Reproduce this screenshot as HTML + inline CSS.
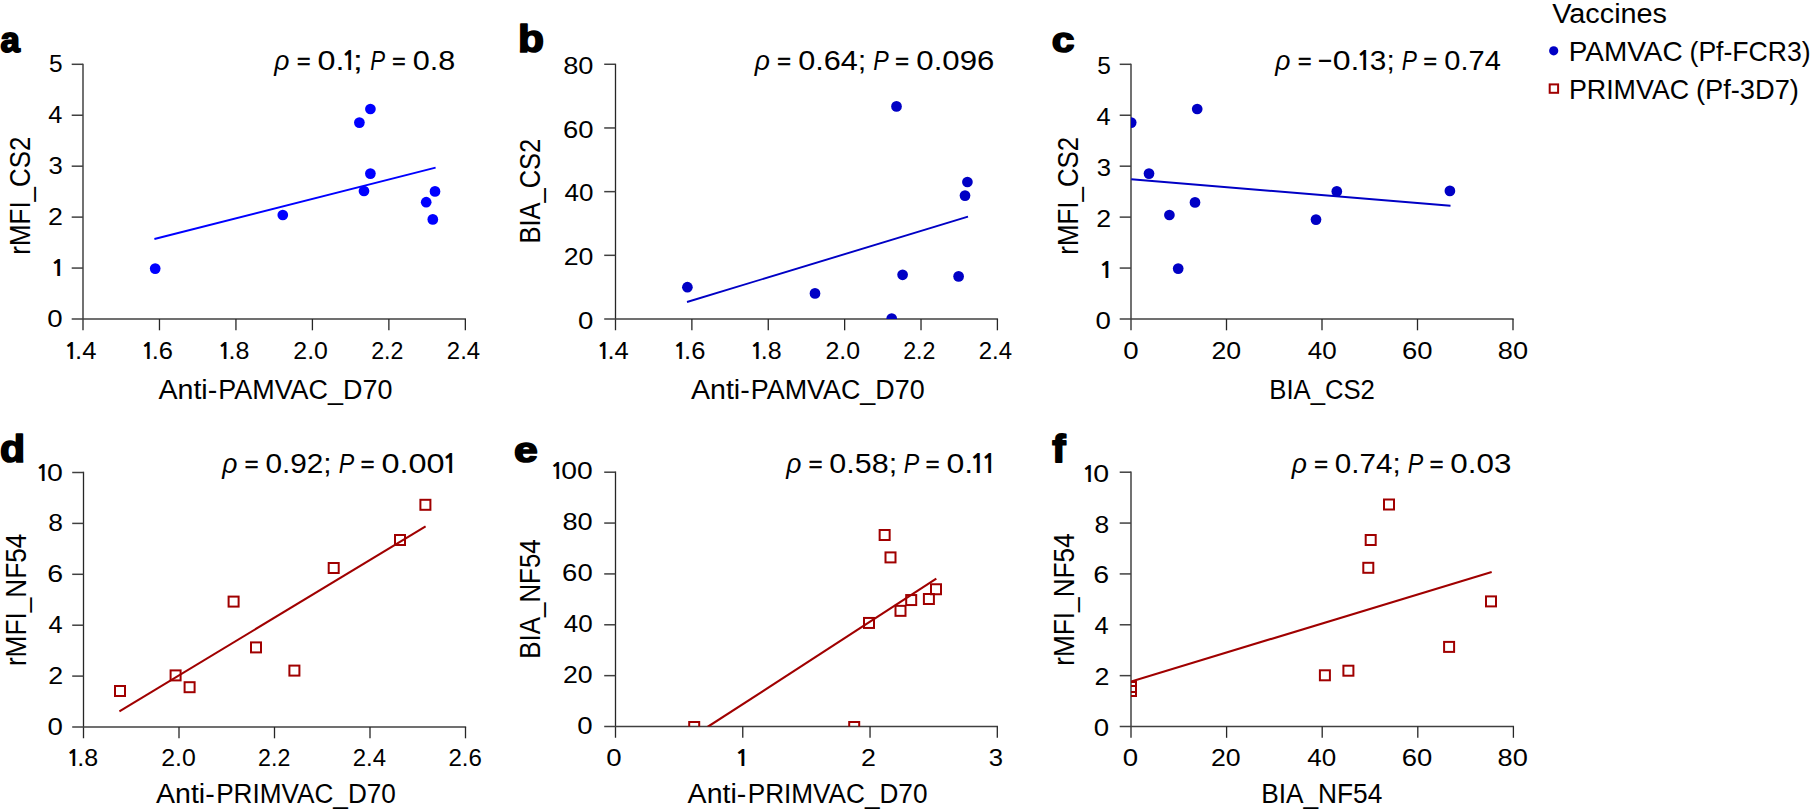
<!DOCTYPE html>
<html lang="en"><head><meta charset="utf-8"><title>Figure</title>
<style>
html,body{margin:0;padding:0;background:#fff;}
body{width:1810px;height:810px;overflow:hidden;}
svg{display:block;}
text{font-family:"Liberation Sans",Arial,Helvetica,sans-serif;}
</style></head><body>
<svg width="1810" height="810" viewBox="0 0 1810 810">
<rect width="1810" height="810" fill="#fff"/>
<line x1="83.00" y1="63.65" x2="83.00" y2="330.30" stroke="#262626" stroke-width="1.3"/>
<line x1="71.70" y1="319.00" x2="466.00" y2="319.00" stroke="#404040" stroke-width="1.5"/>
<line x1="159.47" y1="319.00" x2="159.47" y2="330.30" stroke="#262626" stroke-width="1.3"/>
<line x1="235.94" y1="319.00" x2="235.94" y2="330.30" stroke="#262626" stroke-width="1.3"/>
<line x1="312.41" y1="319.00" x2="312.41" y2="330.30" stroke="#262626" stroke-width="1.3"/>
<line x1="388.88" y1="319.00" x2="388.88" y2="330.30" stroke="#262626" stroke-width="1.3"/>
<line x1="465.35" y1="319.00" x2="465.35" y2="330.30" stroke="#262626" stroke-width="1.3"/>
<line x1="71.70" y1="268.06" x2="83.00" y2="268.06" stroke="#404040" stroke-width="1.5"/>
<line x1="71.70" y1="217.12" x2="83.00" y2="217.12" stroke="#404040" stroke-width="1.5"/>
<line x1="71.70" y1="166.18" x2="83.00" y2="166.18" stroke="#404040" stroke-width="1.5"/>
<line x1="71.70" y1="115.24" x2="83.00" y2="115.24" stroke="#404040" stroke-width="1.5"/>
<line x1="71.70" y1="64.30" x2="83.00" y2="64.30" stroke="#404040" stroke-width="1.5"/>
<clipPath id="cpa"><rect x="83.00" y="0" width="800" height="319.00"/></clipPath>
<g clip-path="url(#cpa)">
<circle cx="370.40" cy="109.00" r="5.35" fill="#0000ff"/>
<circle cx="359.40" cy="122.60" r="5.35" fill="#0000ff"/>
<circle cx="370.40" cy="173.60" r="5.35" fill="#0000ff"/>
<circle cx="364.00" cy="191.00" r="5.35" fill="#0000ff"/>
<circle cx="435.00" cy="191.40" r="5.35" fill="#0000ff"/>
<circle cx="426.20" cy="202.20" r="5.35" fill="#0000ff"/>
<circle cx="432.80" cy="219.40" r="5.35" fill="#0000ff"/>
<circle cx="282.80" cy="215.00" r="5.35" fill="#0000ff"/>
<circle cx="155.20" cy="268.60" r="5.35" fill="#0000ff"/>
<line x1="154.40" y1="239.00" x2="435.60" y2="167.60" stroke="#0000ff" stroke-width="1.9"/>
</g>
<text font-size="24.2" fill="#000" xml:space="preserve"><tspan x="64.12" y="359.40" textLength="14.16" lengthAdjust="spacingAndGlyphs" font-size="21.98" font-weight="bold" font-family="NanumGothic, 'Liberation Sans', sans-serif">1</tspan><tspan x="75.10" y="359.40" textLength="21.35" lengthAdjust="spacingAndGlyphs">.4</tspan></text>
<text font-size="24.2" fill="#000" xml:space="preserve"><tspan x="140.79" y="359.40" textLength="14.16" lengthAdjust="spacingAndGlyphs" font-size="21.98" font-weight="bold" font-family="NanumGothic, 'Liberation Sans', sans-serif">1</tspan><tspan x="151.77" y="359.40" textLength="21.33" lengthAdjust="spacingAndGlyphs">.6</tspan></text>
<text font-size="24.2" fill="#000" xml:space="preserve"><tspan x="217.46" y="359.40" textLength="14.16" lengthAdjust="spacingAndGlyphs" font-size="21.98" font-weight="bold" font-family="NanumGothic, 'Liberation Sans', sans-serif">1</tspan><tspan x="228.49" y="359.40" textLength="20.85" lengthAdjust="spacingAndGlyphs">.8</tspan></text>
<text font-size="24.2" fill="#000" xml:space="preserve"><tspan x="293.37" y="359.40" textLength="34.58" lengthAdjust="spacingAndGlyphs">2.0</tspan></text>
<text font-size="24.2" fill="#000" xml:space="preserve"><tspan x="371.17" y="359.40" textLength="32.22" lengthAdjust="spacingAndGlyphs">2.2</tspan></text>
<text font-size="24.2" fill="#000" xml:space="preserve"><tspan x="446.85" y="359.40" textLength="33.26" lengthAdjust="spacingAndGlyphs">2.4</tspan></text>
<text font-size="24.2" fill="#000" xml:space="preserve"><tspan x="47.29" y="326.60" textLength="15.37" lengthAdjust="spacingAndGlyphs">0</tspan></text>
<text font-size="24.2" fill="#000" xml:space="preserve"><tspan x="50.32" y="275.66" textLength="15.60" lengthAdjust="spacingAndGlyphs" font-size="21.98" font-weight="bold" font-family="NanumGothic, 'Liberation Sans', sans-serif">1</tspan></text>
<text font-size="24.2" fill="#000" xml:space="preserve"><tspan x="48.06" y="224.72" textLength="14.91" lengthAdjust="spacingAndGlyphs">2</tspan></text>
<text font-size="24.2" fill="#000" xml:space="preserve"><tspan x="48.44" y="173.78" textLength="14.28" lengthAdjust="spacingAndGlyphs">3</tspan></text>
<text font-size="24.2" fill="#000" xml:space="preserve"><tspan x="48.23" y="122.84" textLength="14.10" lengthAdjust="spacingAndGlyphs">4</tspan></text>
<text font-size="24.2" fill="#000" xml:space="preserve"><tspan x="49.02" y="71.90" textLength="13.58" lengthAdjust="spacingAndGlyphs">5</tspan></text>
<text font-size="28.2" fill="#000" xml:space="preserve"><tspan x="274.16" y="69.50" textLength="15.14" lengthAdjust="spacingAndGlyphs" font-style="italic">ρ</tspan><tspan> </tspan><tspan x="297.01" y="68.59" textLength="13.42" lengthAdjust="spacingAndGlyphs" font-size="22.02" stroke="#000" stroke-width="0.60">=</tspan><tspan> </tspan><tspan x="317.51" y="69.50" textLength="26.95" lengthAdjust="spacingAndGlyphs">0.</tspan><tspan x="341.22" y="69.50" textLength="15.60" lengthAdjust="spacingAndGlyphs" font-size="25.61" font-weight="bold" font-family="NanumGothic, 'Liberation Sans', sans-serif">1</tspan><tspan x="352.66" y="69.50" textLength="10.19" lengthAdjust="spacingAndGlyphs">;</tspan><tspan> </tspan><tspan x="370.33" y="69.50" textLength="14.82" lengthAdjust="spacingAndGlyphs" font-style="italic">P</tspan><tspan> </tspan><tspan x="392.22" y="68.59" textLength="13.30" lengthAdjust="spacingAndGlyphs" font-size="22.02" stroke="#000" stroke-width="0.60">=</tspan><tspan> </tspan><tspan x="412.78" y="69.50" textLength="42.53" lengthAdjust="spacingAndGlyphs">0.8</tspan></text>
<text font-size="28.2" fill="#000" xml:space="preserve"><tspan x="158.43" y="399.00" textLength="58.82" lengthAdjust="spacingAndGlyphs">Anti-</tspan><tspan x="218.28" y="399.00" textLength="174.14" lengthAdjust="spacingAndGlyphs">PAMVAC_D70</tspan></text>
<text transform="translate(30.20,254.69) rotate(-90) scale(0.9201,1.0308)" font-size="28.2" fill="#000">rMFI_CS2</text>
<text transform="translate(0.60,51.94) scale(0.9167,0.9421)" font-size="38.0" fill="#000" stroke="#000" stroke-width="1.94" stroke-linejoin="round" xml:space="preserve"><tspan font-weight="bold">a</tspan></text>
<line x1="615.50" y1="63.63" x2="615.50" y2="330.30" stroke="#262626" stroke-width="1.3"/>
<line x1="604.20" y1="319.00" x2="998.05" y2="319.00" stroke="#404040" stroke-width="1.5"/>
<line x1="691.88" y1="319.00" x2="691.88" y2="330.30" stroke="#262626" stroke-width="1.3"/>
<line x1="768.26" y1="319.00" x2="768.26" y2="330.30" stroke="#262626" stroke-width="1.3"/>
<line x1="844.64" y1="319.00" x2="844.64" y2="330.30" stroke="#262626" stroke-width="1.3"/>
<line x1="921.02" y1="319.00" x2="921.02" y2="330.30" stroke="#262626" stroke-width="1.3"/>
<line x1="997.40" y1="319.00" x2="997.40" y2="330.30" stroke="#262626" stroke-width="1.3"/>
<line x1="604.20" y1="255.32" x2="615.50" y2="255.32" stroke="#404040" stroke-width="1.5"/>
<line x1="604.20" y1="191.64" x2="615.50" y2="191.64" stroke="#404040" stroke-width="1.5"/>
<line x1="604.20" y1="127.96" x2="615.50" y2="127.96" stroke="#404040" stroke-width="1.5"/>
<line x1="604.20" y1="64.28" x2="615.50" y2="64.28" stroke="#404040" stroke-width="1.5"/>
<clipPath id="cpb"><rect x="615.50" y="0" width="800" height="319.00"/></clipPath>
<g clip-path="url(#cpb)">
<circle cx="896.50" cy="106.40" r="5.35" fill="#0000c5"/>
<circle cx="967.40" cy="182.00" r="5.35" fill="#0000c5"/>
<circle cx="965.00" cy="195.60" r="5.35" fill="#0000c5"/>
<circle cx="687.40" cy="287.20" r="5.35" fill="#0000c5"/>
<circle cx="815.00" cy="293.40" r="5.35" fill="#0000c5"/>
<circle cx="891.70" cy="318.60" r="5.35" fill="#0000c5"/>
<circle cx="902.60" cy="274.80" r="5.35" fill="#0000c5"/>
<circle cx="958.60" cy="276.40" r="5.35" fill="#0000c5"/>
<line x1="687.00" y1="302.00" x2="968.00" y2="216.70" stroke="#0000c5" stroke-width="1.9"/>
</g>
<text font-size="24.2" fill="#000" xml:space="preserve"><tspan x="596.52" y="359.40" textLength="14.16" lengthAdjust="spacingAndGlyphs" font-size="21.98" font-weight="bold" font-family="NanumGothic, 'Liberation Sans', sans-serif">1</tspan><tspan x="607.50" y="359.40" textLength="21.35" lengthAdjust="spacingAndGlyphs">.4</tspan></text>
<text font-size="24.2" fill="#000" xml:space="preserve"><tspan x="673.10" y="359.40" textLength="14.16" lengthAdjust="spacingAndGlyphs" font-size="21.98" font-weight="bold" font-family="NanumGothic, 'Liberation Sans', sans-serif">1</tspan><tspan x="684.08" y="359.40" textLength="21.33" lengthAdjust="spacingAndGlyphs">.6</tspan></text>
<text font-size="24.2" fill="#000" xml:space="preserve"><tspan x="749.68" y="359.40" textLength="14.16" lengthAdjust="spacingAndGlyphs" font-size="21.98" font-weight="bold" font-family="NanumGothic, 'Liberation Sans', sans-serif">1</tspan><tspan x="760.71" y="359.40" textLength="20.85" lengthAdjust="spacingAndGlyphs">.8</tspan></text>
<text font-size="24.2" fill="#000" xml:space="preserve"><tspan x="825.50" y="359.40" textLength="34.58" lengthAdjust="spacingAndGlyphs">2.0</tspan></text>
<text font-size="24.2" fill="#000" xml:space="preserve"><tspan x="903.21" y="359.40" textLength="32.22" lengthAdjust="spacingAndGlyphs">2.2</tspan></text>
<text font-size="24.2" fill="#000" xml:space="preserve"><tspan x="978.80" y="359.40" textLength="33.26" lengthAdjust="spacingAndGlyphs">2.4</tspan></text>
<text font-size="24.2" fill="#000" xml:space="preserve"><tspan x="578.09" y="328.60" textLength="15.37" lengthAdjust="spacingAndGlyphs">0</tspan></text>
<text font-size="24.2" fill="#000" xml:space="preserve"><tspan x="563.77" y="264.92" textLength="29.70" lengthAdjust="spacingAndGlyphs">20</tspan></text>
<text font-size="24.2" fill="#000" xml:space="preserve"><tspan x="564.51" y="201.24" textLength="28.92" lengthAdjust="spacingAndGlyphs">40</tspan></text>
<text font-size="24.2" fill="#000" xml:space="preserve"><tspan x="562.93" y="137.56" textLength="30.57" lengthAdjust="spacingAndGlyphs">60</tspan></text>
<text font-size="24.2" fill="#000" xml:space="preserve"><tspan x="563.24" y="73.88" textLength="30.24" lengthAdjust="spacingAndGlyphs">80</tspan></text>
<text font-size="28.2" fill="#000" xml:space="preserve"><tspan x="754.66" y="69.50" textLength="15.14" lengthAdjust="spacingAndGlyphs" font-style="italic">ρ</tspan><tspan> </tspan><tspan x="777.19" y="68.59" textLength="13.66" lengthAdjust="spacingAndGlyphs" font-size="22.02" stroke="#000" stroke-width="0.60">=</tspan><tspan> </tspan><tspan x="798.17" y="69.50" textLength="68.16" lengthAdjust="spacingAndGlyphs">0.64;</tspan><tspan> </tspan><tspan x="873.30" y="69.50" textLength="15.46" lengthAdjust="spacingAndGlyphs" font-style="italic">P</tspan><tspan> </tspan><tspan x="895.19" y="68.59" textLength="13.66" lengthAdjust="spacingAndGlyphs" font-size="22.02" stroke="#000" stroke-width="0.60">=</tspan><tspan> </tspan><tspan x="916.35" y="69.50" textLength="77.97" lengthAdjust="spacingAndGlyphs">0.096</tspan></text>
<text font-size="28.2" fill="#000" xml:space="preserve"><tspan x="690.93" y="399.00" textLength="58.82" lengthAdjust="spacingAndGlyphs">Anti-</tspan><tspan x="750.78" y="399.00" textLength="173.84" lengthAdjust="spacingAndGlyphs">PAMVAC_D70</tspan></text>
<text transform="translate(539.60,243.50) rotate(-90) scale(0.9035,1.0308)" font-size="28.2" fill="#000">BIA_CS2</text>
<text transform="translate(518.03,52.02) scale(1.1204,0.9989)" font-size="38.0" fill="#000" stroke="#000" stroke-width="1.70" stroke-linejoin="round" xml:space="preserve"><tspan font-weight="bold">b</tspan></text>
<line x1="1131.00" y1="63.65" x2="1131.00" y2="330.30" stroke="#262626" stroke-width="1.3"/>
<line x1="1119.70" y1="319.00" x2="1513.65" y2="319.00" stroke="#404040" stroke-width="1.5"/>
<line x1="1226.50" y1="319.00" x2="1226.50" y2="330.30" stroke="#262626" stroke-width="1.3"/>
<line x1="1322.00" y1="319.00" x2="1322.00" y2="330.30" stroke="#262626" stroke-width="1.3"/>
<line x1="1417.50" y1="319.00" x2="1417.50" y2="330.30" stroke="#262626" stroke-width="1.3"/>
<line x1="1513.00" y1="319.00" x2="1513.00" y2="330.30" stroke="#262626" stroke-width="1.3"/>
<line x1="1119.70" y1="268.06" x2="1131.00" y2="268.06" stroke="#404040" stroke-width="1.5"/>
<line x1="1119.70" y1="217.12" x2="1131.00" y2="217.12" stroke="#404040" stroke-width="1.5"/>
<line x1="1119.70" y1="166.18" x2="1131.00" y2="166.18" stroke="#404040" stroke-width="1.5"/>
<line x1="1119.70" y1="115.24" x2="1131.00" y2="115.24" stroke="#404040" stroke-width="1.5"/>
<line x1="1119.70" y1="64.30" x2="1131.00" y2="64.30" stroke="#404040" stroke-width="1.5"/>
<clipPath id="cpc"><rect x="1131.00" y="0" width="800" height="319.00"/></clipPath>
<g clip-path="url(#cpc)">
<circle cx="1131.20" cy="122.60" r="5.35" fill="#0000c5"/>
<circle cx="1197.20" cy="109.00" r="5.35" fill="#0000c5"/>
<circle cx="1149.00" cy="173.60" r="5.35" fill="#0000c5"/>
<circle cx="1169.40" cy="215.00" r="5.35" fill="#0000c5"/>
<circle cx="1195.00" cy="202.40" r="5.35" fill="#0000c5"/>
<circle cx="1178.20" cy="268.60" r="5.35" fill="#0000c5"/>
<circle cx="1316.00" cy="219.60" r="5.35" fill="#0000c5"/>
<circle cx="1336.80" cy="191.40" r="5.35" fill="#0000c5"/>
<circle cx="1449.90" cy="190.90" r="5.35" fill="#0000c5"/>
<line x1="1131.20" y1="179.30" x2="1450.50" y2="205.80" stroke="#0000c5" stroke-width="1.9"/>
</g>
<text font-size="24.2" fill="#000" xml:space="preserve"><tspan x="1123.29" y="359.40" textLength="15.37" lengthAdjust="spacingAndGlyphs">0</tspan></text>
<text font-size="24.2" fill="#000" xml:space="preserve"><tspan x="1211.52" y="359.40" textLength="29.70" lengthAdjust="spacingAndGlyphs">20</tspan></text>
<text font-size="24.2" fill="#000" xml:space="preserve"><tspan x="1307.76" y="359.40" textLength="28.92" lengthAdjust="spacingAndGlyphs">40</tspan></text>
<text font-size="24.2" fill="#000" xml:space="preserve"><tspan x="1402.08" y="359.40" textLength="30.57" lengthAdjust="spacingAndGlyphs">60</tspan></text>
<text font-size="24.2" fill="#000" xml:space="preserve"><tspan x="1497.84" y="359.40" textLength="30.24" lengthAdjust="spacingAndGlyphs">80</tspan></text>
<text font-size="24.2" fill="#000" xml:space="preserve"><tspan x="1095.59" y="328.50" textLength="15.37" lengthAdjust="spacingAndGlyphs">0</tspan></text>
<text font-size="24.2" fill="#000" xml:space="preserve"><tspan x="1098.62" y="277.56" textLength="15.60" lengthAdjust="spacingAndGlyphs" font-size="21.98" font-weight="bold" font-family="NanumGothic, 'Liberation Sans', sans-serif">1</tspan></text>
<text font-size="24.2" fill="#000" xml:space="preserve"><tspan x="1096.36" y="226.62" textLength="14.91" lengthAdjust="spacingAndGlyphs">2</tspan></text>
<text font-size="24.2" fill="#000" xml:space="preserve"><tspan x="1096.74" y="175.68" textLength="14.28" lengthAdjust="spacingAndGlyphs">3</tspan></text>
<text font-size="24.2" fill="#000" xml:space="preserve"><tspan x="1096.53" y="124.74" textLength="14.10" lengthAdjust="spacingAndGlyphs">4</tspan></text>
<text font-size="24.2" fill="#000" xml:space="preserve"><tspan x="1097.32" y="73.80" textLength="13.58" lengthAdjust="spacingAndGlyphs">5</tspan></text>
<text font-size="28.2" fill="#000" xml:space="preserve"><tspan x="1275.26" y="69.50" textLength="15.14" lengthAdjust="spacingAndGlyphs" font-style="italic">ρ</tspan><tspan> </tspan><tspan x="1298.01" y="68.59" textLength="13.42" lengthAdjust="spacingAndGlyphs" font-size="22.02" stroke="#000" stroke-width="0.60">=</tspan><tspan> </tspan><tspan x="1319.00" y="69.47" textLength="12.03" lengthAdjust="spacingAndGlyphs" font-size="32.59">–</tspan><tspan x="1332.72" y="69.50" textLength="26.71" lengthAdjust="spacingAndGlyphs">0.</tspan><tspan x="1356.22" y="69.50" textLength="15.60" lengthAdjust="spacingAndGlyphs" font-size="25.61" font-weight="bold" font-family="NanumGothic, 'Liberation Sans', sans-serif">1</tspan><tspan x="1369.88" y="69.50" textLength="24.84" lengthAdjust="spacingAndGlyphs">3;</tspan><tspan> </tspan><tspan x="1401.82" y="69.50" textLength="15.14" lengthAdjust="spacingAndGlyphs" font-style="italic">P</tspan><tspan> </tspan><tspan x="1423.41" y="68.59" textLength="13.42" lengthAdjust="spacingAndGlyphs" font-size="22.02" stroke="#000" stroke-width="0.60">=</tspan><tspan> </tspan><tspan x="1444.34" y="69.50" textLength="56.50" lengthAdjust="spacingAndGlyphs">0.74</tspan></text>
<text font-size="28.2" fill="#000" xml:space="preserve"><tspan x="1269.28" y="399.00" textLength="105.62" lengthAdjust="spacingAndGlyphs">BIA_CS2</tspan></text>
<text transform="translate(1078.00,254.68) rotate(-90) scale(0.9185,1.0308)" font-size="28.2" fill="#000">rMFI_CS2</text>
<text transform="translate(1051.77,52.04) scale(1.0742,0.9469)" font-size="38.0" fill="#000" stroke="#000" stroke-width="1.78" stroke-linejoin="round" xml:space="preserve"><tspan font-weight="bold">c</tspan></text>
<line x1="83.50" y1="471.85" x2="83.50" y2="738.30" stroke="#262626" stroke-width="1.3"/>
<line x1="72.20" y1="727.00" x2="466.15" y2="727.00" stroke="#404040" stroke-width="1.5"/>
<line x1="179.00" y1="727.00" x2="179.00" y2="738.30" stroke="#262626" stroke-width="1.3"/>
<line x1="274.50" y1="727.00" x2="274.50" y2="738.30" stroke="#262626" stroke-width="1.3"/>
<line x1="370.00" y1="727.00" x2="370.00" y2="738.30" stroke="#262626" stroke-width="1.3"/>
<line x1="465.50" y1="727.00" x2="465.50" y2="738.30" stroke="#262626" stroke-width="1.3"/>
<line x1="72.20" y1="676.10" x2="83.50" y2="676.10" stroke="#404040" stroke-width="1.5"/>
<line x1="72.20" y1="625.20" x2="83.50" y2="625.20" stroke="#404040" stroke-width="1.5"/>
<line x1="72.20" y1="574.30" x2="83.50" y2="574.30" stroke="#404040" stroke-width="1.5"/>
<line x1="72.20" y1="523.40" x2="83.50" y2="523.40" stroke="#404040" stroke-width="1.5"/>
<line x1="72.20" y1="472.50" x2="83.50" y2="472.50" stroke="#404040" stroke-width="1.5"/>
<clipPath id="cpd"><rect x="83.50" y="0" width="800" height="727.00"/></clipPath>
<g clip-path="url(#cpd)">
<rect x="420.40" y="499.80" width="10.0" height="10.0" fill="none" stroke="#a00000" stroke-width="2.0"/>
<rect x="395.00" y="535.00" width="10.0" height="10.0" fill="none" stroke="#a00000" stroke-width="2.0"/>
<rect x="328.70" y="563.00" width="10.0" height="10.0" fill="none" stroke="#a00000" stroke-width="2.0"/>
<rect x="228.60" y="596.60" width="10.0" height="10.0" fill="none" stroke="#a00000" stroke-width="2.0"/>
<rect x="251.00" y="642.40" width="10.0" height="10.0" fill="none" stroke="#a00000" stroke-width="2.0"/>
<rect x="289.40" y="665.60" width="10.0" height="10.0" fill="none" stroke="#a00000" stroke-width="2.0"/>
<rect x="170.60" y="670.40" width="10.0" height="10.0" fill="none" stroke="#a00000" stroke-width="2.0"/>
<rect x="184.60" y="682.20" width="10.0" height="10.0" fill="none" stroke="#a00000" stroke-width="2.0"/>
<rect x="115.00" y="686.00" width="10.0" height="10.0" fill="none" stroke="#a00000" stroke-width="2.0"/>
<line x1="119.40" y1="711.40" x2="425.60" y2="526.40" stroke="#a00000" stroke-width="2.1"/>
</g>
<text font-size="24.2" fill="#000" xml:space="preserve"><tspan x="66.32" y="766.40" textLength="14.16" lengthAdjust="spacingAndGlyphs" font-size="21.98" font-weight="bold" font-family="NanumGothic, 'Liberation Sans', sans-serif">1</tspan><tspan x="77.35" y="766.40" textLength="20.85" lengthAdjust="spacingAndGlyphs">.8</tspan></text>
<text font-size="24.2" fill="#000" xml:space="preserve"><tspan x="161.26" y="766.40" textLength="34.58" lengthAdjust="spacingAndGlyphs">2.0</tspan></text>
<text font-size="24.2" fill="#000" xml:space="preserve"><tspan x="258.09" y="766.40" textLength="32.22" lengthAdjust="spacingAndGlyphs">2.2</tspan></text>
<text font-size="24.2" fill="#000" xml:space="preserve"><tspan x="352.80" y="766.40" textLength="33.26" lengthAdjust="spacingAndGlyphs">2.4</tspan></text>
<text font-size="24.2" fill="#000" xml:space="preserve"><tspan x="448.40" y="766.40" textLength="33.43" lengthAdjust="spacingAndGlyphs">2.6</tspan></text>
<text font-size="24.2" fill="#000" xml:space="preserve"><tspan x="47.49" y="735.00" textLength="15.37" lengthAdjust="spacingAndGlyphs">0</tspan></text>
<text font-size="24.2" fill="#000" xml:space="preserve"><tspan x="48.26" y="684.10" textLength="14.91" lengthAdjust="spacingAndGlyphs">2</tspan></text>
<text font-size="24.2" fill="#000" xml:space="preserve"><tspan x="48.43" y="633.20" textLength="14.10" lengthAdjust="spacingAndGlyphs">4</tspan></text>
<text font-size="24.2" fill="#000" xml:space="preserve"><tspan x="47.17" y="582.30" textLength="15.87" lengthAdjust="spacingAndGlyphs">6</tspan></text>
<text font-size="24.2" fill="#000" xml:space="preserve"><tspan x="48.28" y="531.40" textLength="14.67" lengthAdjust="spacingAndGlyphs">8</tspan></text>
<text font-size="24.2" fill="#000" xml:space="preserve"><tspan x="35.57" y="480.50" textLength="14.40" lengthAdjust="spacingAndGlyphs" font-size="21.98" font-weight="bold" font-family="NanumGothic, 'Liberation Sans', sans-serif">1</tspan><tspan x="47.06" y="480.50" textLength="15.84" lengthAdjust="spacingAndGlyphs">0</tspan></text>
<text font-size="28.2" fill="#000" xml:space="preserve"><tspan x="222.26" y="473.00" textLength="15.14" lengthAdjust="spacingAndGlyphs" font-style="italic">ρ</tspan><tspan> </tspan><tspan x="244.79" y="472.09" textLength="13.66" lengthAdjust="spacingAndGlyphs" font-size="22.02" stroke="#000" stroke-width="0.60">=</tspan><tspan> </tspan><tspan x="265.41" y="473.00" textLength="66.25" lengthAdjust="spacingAndGlyphs">0.92;</tspan><tspan> </tspan><tspan x="338.70" y="473.00" textLength="15.46" lengthAdjust="spacingAndGlyphs" font-style="italic">P</tspan><tspan> </tspan><tspan x="360.79" y="472.09" textLength="13.66" lengthAdjust="spacingAndGlyphs" font-size="22.02" stroke="#000" stroke-width="0.60">=</tspan><tspan> </tspan><tspan x="381.50" y="473.00" textLength="63.06" lengthAdjust="spacingAndGlyphs">0.00</tspan><tspan x="442.12" y="473.00" textLength="16.08" lengthAdjust="spacingAndGlyphs" font-size="25.61" font-weight="bold" font-family="NanumGothic, 'Liberation Sans', sans-serif">1</tspan></text>
<text font-size="28.2" fill="#000" xml:space="preserve"><tspan x="156.03" y="802.60" textLength="58.62" lengthAdjust="spacingAndGlyphs">Anti-</tspan><tspan x="216.14" y="802.60" textLength="179.74" lengthAdjust="spacingAndGlyphs">PRIMVAC_D70</tspan></text>
<text transform="translate(26.00,666.10) rotate(-90) scale(0.9290,1.0308)" font-size="28.2" fill="#000">rMFI_NF54</text>
<text transform="translate(0.06,462.02) scale(1.0787,0.9989)" font-size="38.0" fill="#000" stroke="#000" stroke-width="1.73" stroke-linejoin="round" xml:space="preserve"><tspan font-weight="bold">d</tspan></text>
<line x1="615.50" y1="471.55" x2="615.50" y2="737.80" stroke="#262626" stroke-width="1.3"/>
<line x1="604.20" y1="726.50" x2="997.96" y2="726.50" stroke="#404040" stroke-width="1.5"/>
<line x1="742.77" y1="726.50" x2="742.77" y2="737.80" stroke="#262626" stroke-width="1.3"/>
<line x1="870.04" y1="726.50" x2="870.04" y2="737.80" stroke="#262626" stroke-width="1.3"/>
<line x1="997.31" y1="726.50" x2="997.31" y2="737.80" stroke="#262626" stroke-width="1.3"/>
<line x1="604.20" y1="675.64" x2="615.50" y2="675.64" stroke="#404040" stroke-width="1.5"/>
<line x1="604.20" y1="624.78" x2="615.50" y2="624.78" stroke="#404040" stroke-width="1.5"/>
<line x1="604.20" y1="573.92" x2="615.50" y2="573.92" stroke="#404040" stroke-width="1.5"/>
<line x1="604.20" y1="523.06" x2="615.50" y2="523.06" stroke="#404040" stroke-width="1.5"/>
<line x1="604.20" y1="472.20" x2="615.50" y2="472.20" stroke="#404040" stroke-width="1.5"/>
<clipPath id="cpe"><rect x="615.50" y="0" width="800" height="726.50"/></clipPath>
<g clip-path="url(#cpe)">
<rect x="879.65" y="530.00" width="10.0" height="10.0" fill="none" stroke="#a00000" stroke-width="2.0"/>
<rect x="885.50" y="552.40" width="10.0" height="10.0" fill="none" stroke="#a00000" stroke-width="2.0"/>
<rect x="864.00" y="617.95" width="10.0" height="10.0" fill="none" stroke="#a00000" stroke-width="2.0"/>
<rect x="895.50" y="605.85" width="10.0" height="10.0" fill="none" stroke="#a00000" stroke-width="2.0"/>
<rect x="906.20" y="595.05" width="10.0" height="10.0" fill="none" stroke="#a00000" stroke-width="2.0"/>
<rect x="923.90" y="594.00" width="10.0" height="10.0" fill="none" stroke="#a00000" stroke-width="2.0"/>
<rect x="931.00" y="584.25" width="10.0" height="10.0" fill="none" stroke="#a00000" stroke-width="2.0"/>
<rect x="689.20" y="722.00" width="10.0" height="10.0" fill="none" stroke="#a00000" stroke-width="2.0"/>
<rect x="849.20" y="722.00" width="10.0" height="10.0" fill="none" stroke="#a00000" stroke-width="2.0"/>
<line x1="707.50" y1="727.00" x2="936.30" y2="578.70" stroke="#a00000" stroke-width="2.1"/>
</g>
<text font-size="24.2" fill="#000" xml:space="preserve"><tspan x="606.19" y="766.40" textLength="15.37" lengthAdjust="spacingAndGlyphs">0</tspan></text>
<text font-size="24.2" fill="#000" xml:space="preserve"><tspan x="734.64" y="766.40" textLength="15.60" lengthAdjust="spacingAndGlyphs" font-size="21.98" font-weight="bold" font-family="NanumGothic, 'Liberation Sans', sans-serif">1</tspan></text>
<text font-size="24.2" fill="#000" xml:space="preserve"><tspan x="861.00" y="766.40" textLength="14.91" lengthAdjust="spacingAndGlyphs">2</tspan></text>
<text font-size="24.2" fill="#000" xml:space="preserve"><tspan x="988.65" y="766.40" textLength="14.28" lengthAdjust="spacingAndGlyphs">3</tspan></text>
<text font-size="24.2" fill="#000" xml:space="preserve"><tspan x="577.29" y="733.50" textLength="15.37" lengthAdjust="spacingAndGlyphs">0</tspan></text>
<text font-size="24.2" fill="#000" xml:space="preserve"><tspan x="562.97" y="682.64" textLength="29.70" lengthAdjust="spacingAndGlyphs">20</tspan></text>
<text font-size="24.2" fill="#000" xml:space="preserve"><tspan x="563.72" y="631.78" textLength="28.92" lengthAdjust="spacingAndGlyphs">40</tspan></text>
<text font-size="24.2" fill="#000" xml:space="preserve"><tspan x="562.13" y="580.92" textLength="30.57" lengthAdjust="spacingAndGlyphs">60</tspan></text>
<text font-size="24.2" fill="#000" xml:space="preserve"><tspan x="562.44" y="530.06" textLength="30.24" lengthAdjust="spacingAndGlyphs">80</tspan></text>
<text font-size="24.2" fill="#000" xml:space="preserve"><tspan x="549.97" y="479.20" textLength="14.40" lengthAdjust="spacingAndGlyphs" font-size="21.98" font-weight="bold" font-family="NanumGothic, 'Liberation Sans', sans-serif">1</tspan><tspan x="561.27" y="479.20" textLength="31.46" lengthAdjust="spacingAndGlyphs">00</tspan></text>
<text font-size="28.2" fill="#000" xml:space="preserve"><tspan x="786.26" y="473.00" textLength="15.14" lengthAdjust="spacingAndGlyphs" font-style="italic">ρ</tspan><tspan> </tspan><tspan x="808.79" y="472.09" textLength="13.66" lengthAdjust="spacingAndGlyphs" font-size="22.02" stroke="#000" stroke-width="0.60">=</tspan><tspan> </tspan><tspan x="829.38" y="473.00" textLength="67.74" lengthAdjust="spacingAndGlyphs">0.58;</tspan><tspan> </tspan><tspan x="903.70" y="473.00" textLength="15.46" lengthAdjust="spacingAndGlyphs" font-style="italic">P</tspan><tspan> </tspan><tspan x="925.79" y="472.09" textLength="13.66" lengthAdjust="spacingAndGlyphs" font-size="22.02" stroke="#000" stroke-width="0.60">=</tspan><tspan> </tspan><tspan x="946.52" y="473.00" textLength="26.71" lengthAdjust="spacingAndGlyphs">0.</tspan><tspan x="969.57" y="473.00" textLength="16.32" lengthAdjust="spacingAndGlyphs" font-size="25.61" font-weight="bold" font-family="NanumGothic, 'Liberation Sans', sans-serif">1</tspan><tspan x="981.12" y="473.00" textLength="16.08" lengthAdjust="spacingAndGlyphs" font-size="25.61" font-weight="bold" font-family="NanumGothic, 'Liberation Sans', sans-serif">1</tspan></text>
<text font-size="28.2" fill="#000" xml:space="preserve"><tspan x="687.63" y="802.60" textLength="58.62" lengthAdjust="spacingAndGlyphs">Anti-</tspan><tspan x="747.74" y="802.60" textLength="179.74" lengthAdjust="spacingAndGlyphs">PRIMVAC_D70</tspan></text>
<text transform="translate(539.60,658.74) rotate(-90) scale(0.9183,1.0308)" font-size="28.2" fill="#000">BIA_NF54</text>
<text transform="translate(513.89,462.04) scale(1.1235,0.9469)" font-size="38.0" fill="#000" stroke="#000" stroke-width="1.74" stroke-linejoin="round" xml:space="preserve"><tspan font-weight="bold">e</tspan></text>
<line x1="1131.00" y1="471.55" x2="1131.00" y2="737.80" stroke="#262626" stroke-width="1.3"/>
<line x1="1119.70" y1="726.50" x2="1514.05" y2="726.50" stroke="#404040" stroke-width="1.5"/>
<line x1="1226.60" y1="726.50" x2="1226.60" y2="737.80" stroke="#262626" stroke-width="1.3"/>
<line x1="1322.20" y1="726.50" x2="1322.20" y2="737.80" stroke="#262626" stroke-width="1.3"/>
<line x1="1417.80" y1="726.50" x2="1417.80" y2="737.80" stroke="#262626" stroke-width="1.3"/>
<line x1="1513.40" y1="726.50" x2="1513.40" y2="737.80" stroke="#262626" stroke-width="1.3"/>
<line x1="1119.70" y1="675.64" x2="1131.00" y2="675.64" stroke="#404040" stroke-width="1.5"/>
<line x1="1119.70" y1="624.78" x2="1131.00" y2="624.78" stroke="#404040" stroke-width="1.5"/>
<line x1="1119.70" y1="573.92" x2="1131.00" y2="573.92" stroke="#404040" stroke-width="1.5"/>
<line x1="1119.70" y1="523.06" x2="1131.00" y2="523.06" stroke="#404040" stroke-width="1.5"/>
<line x1="1119.70" y1="472.20" x2="1131.00" y2="472.20" stroke="#404040" stroke-width="1.5"/>
<clipPath id="cpf"><rect x="1131.00" y="0" width="800" height="726.50"/></clipPath>
<g clip-path="url(#cpf)">
<rect x="1384.00" y="499.50" width="10.0" height="10.0" fill="none" stroke="#a00000" stroke-width="2.0"/>
<rect x="1365.70" y="535.00" width="10.0" height="10.0" fill="none" stroke="#a00000" stroke-width="2.0"/>
<rect x="1363.30" y="562.80" width="10.0" height="10.0" fill="none" stroke="#a00000" stroke-width="2.0"/>
<rect x="1486.00" y="596.40" width="10.0" height="10.0" fill="none" stroke="#a00000" stroke-width="2.0"/>
<rect x="1444.10" y="641.90" width="10.0" height="10.0" fill="none" stroke="#a00000" stroke-width="2.0"/>
<rect x="1343.40" y="665.70" width="10.0" height="10.0" fill="none" stroke="#a00000" stroke-width="2.0"/>
<rect x="1319.90" y="670.30" width="10.0" height="10.0" fill="none" stroke="#a00000" stroke-width="2.0"/>
<rect x="1126.00" y="682.00" width="10.0" height="10.0" fill="none" stroke="#a00000" stroke-width="2.0"/>
<rect x="1126.00" y="686.00" width="10.0" height="10.0" fill="none" stroke="#a00000" stroke-width="2.0"/>
<line x1="1131.20" y1="681.50" x2="1491.70" y2="571.90" stroke="#a00000" stroke-width="2.1"/>
</g>
<text font-size="24.2" fill="#000" xml:space="preserve"><tspan x="1122.69" y="766.40" textLength="15.37" lengthAdjust="spacingAndGlyphs">0</tspan></text>
<text font-size="24.2" fill="#000" xml:space="preserve"><tspan x="1211.02" y="766.40" textLength="29.70" lengthAdjust="spacingAndGlyphs">20</tspan></text>
<text font-size="24.2" fill="#000" xml:space="preserve"><tspan x="1307.37" y="766.40" textLength="28.92" lengthAdjust="spacingAndGlyphs">40</tspan></text>
<text font-size="24.2" fill="#000" xml:space="preserve"><tspan x="1401.78" y="766.40" textLength="30.57" lengthAdjust="spacingAndGlyphs">60</tspan></text>
<text font-size="24.2" fill="#000" xml:space="preserve"><tspan x="1497.64" y="766.40" textLength="30.24" lengthAdjust="spacingAndGlyphs">80</tspan></text>
<text font-size="24.2" fill="#000" xml:space="preserve"><tspan x="1093.69" y="736.00" textLength="15.37" lengthAdjust="spacingAndGlyphs">0</tspan></text>
<text font-size="24.2" fill="#000" xml:space="preserve"><tspan x="1094.46" y="685.14" textLength="14.91" lengthAdjust="spacingAndGlyphs">2</tspan></text>
<text font-size="24.2" fill="#000" xml:space="preserve"><tspan x="1094.63" y="634.28" textLength="14.10" lengthAdjust="spacingAndGlyphs">4</tspan></text>
<text font-size="24.2" fill="#000" xml:space="preserve"><tspan x="1093.37" y="583.42" textLength="15.87" lengthAdjust="spacingAndGlyphs">6</tspan></text>
<text font-size="24.2" fill="#000" xml:space="preserve"><tspan x="1094.48" y="532.56" textLength="14.67" lengthAdjust="spacingAndGlyphs">8</tspan></text>
<text font-size="24.2" fill="#000" xml:space="preserve"><tspan x="1081.77" y="481.70" textLength="14.40" lengthAdjust="spacingAndGlyphs" font-size="21.98" font-weight="bold" font-family="NanumGothic, 'Liberation Sans', sans-serif">1</tspan><tspan x="1093.26" y="481.70" textLength="15.84" lengthAdjust="spacingAndGlyphs">0</tspan></text>
<text font-size="28.2" fill="#000" xml:space="preserve"><tspan x="1291.66" y="473.00" textLength="15.14" lengthAdjust="spacingAndGlyphs" font-style="italic">ρ</tspan><tspan> </tspan><tspan x="1314.19" y="472.09" textLength="13.66" lengthAdjust="spacingAndGlyphs" font-size="22.02" stroke="#000" stroke-width="0.60">=</tspan><tspan> </tspan><tspan x="1334.82" y="473.00" textLength="65.82" lengthAdjust="spacingAndGlyphs">0.74;</tspan><tspan> </tspan><tspan x="1407.70" y="473.00" textLength="15.46" lengthAdjust="spacingAndGlyphs" font-style="italic">P</tspan><tspan> </tspan><tspan x="1429.79" y="472.09" textLength="13.66" lengthAdjust="spacingAndGlyphs" font-size="22.02" stroke="#000" stroke-width="0.60">=</tspan><tspan> </tspan><tspan x="1450.35" y="473.00" textLength="61.03" lengthAdjust="spacingAndGlyphs">0.03</tspan></text>
<text font-size="28.2" fill="#000" xml:space="preserve"><tspan x="1261.13" y="802.60" textLength="121.11" lengthAdjust="spacingAndGlyphs">BIA_NF54</tspan></text>
<text transform="translate(1074.40,665.70) rotate(-90) scale(0.9290,1.0308)" font-size="28.2" fill="#000">rMFI_NF54</text>
<text transform="translate(1052.20,462.10) scale(1.0526,1.0018)" font-size="38.0" fill="#000" stroke="#000" stroke-width="1.75" stroke-linejoin="round" xml:space="preserve"><tspan font-weight="bold">f</tspan></text>
<text font-size="27.7" fill="#000" xml:space="preserve"><tspan x="1552.16" y="23.20" textLength="114.88" lengthAdjust="spacingAndGlyphs">Vaccines</tspan></text>
<circle cx="1553.7" cy="50.8" r="4.6" fill="#0000c5"/>
<text font-size="28.3" fill="#000" xml:space="preserve"><tspan x="1568.80" y="61.00" textLength="113.85" lengthAdjust="spacingAndGlyphs">PAMVAC</tspan><tspan> </tspan><tspan x="1689.54" y="61.00" textLength="121.06" lengthAdjust="spacingAndGlyphs">(Pf-FCR3)</tspan></text>
<rect x="1549.7" y="84.4" width="8.4" height="8.4" fill="none" stroke="#a00000" stroke-width="2.0"/>
<text font-size="28.3" fill="#000" xml:space="preserve"><tspan x="1568.89" y="98.70" textLength="120.31" lengthAdjust="spacingAndGlyphs">PRIMVAC</tspan><tspan> </tspan><tspan x="1695.90" y="98.70" textLength="103.07" lengthAdjust="spacingAndGlyphs">(Pf-3D7)</tspan></text>
</svg>
</body></html>
